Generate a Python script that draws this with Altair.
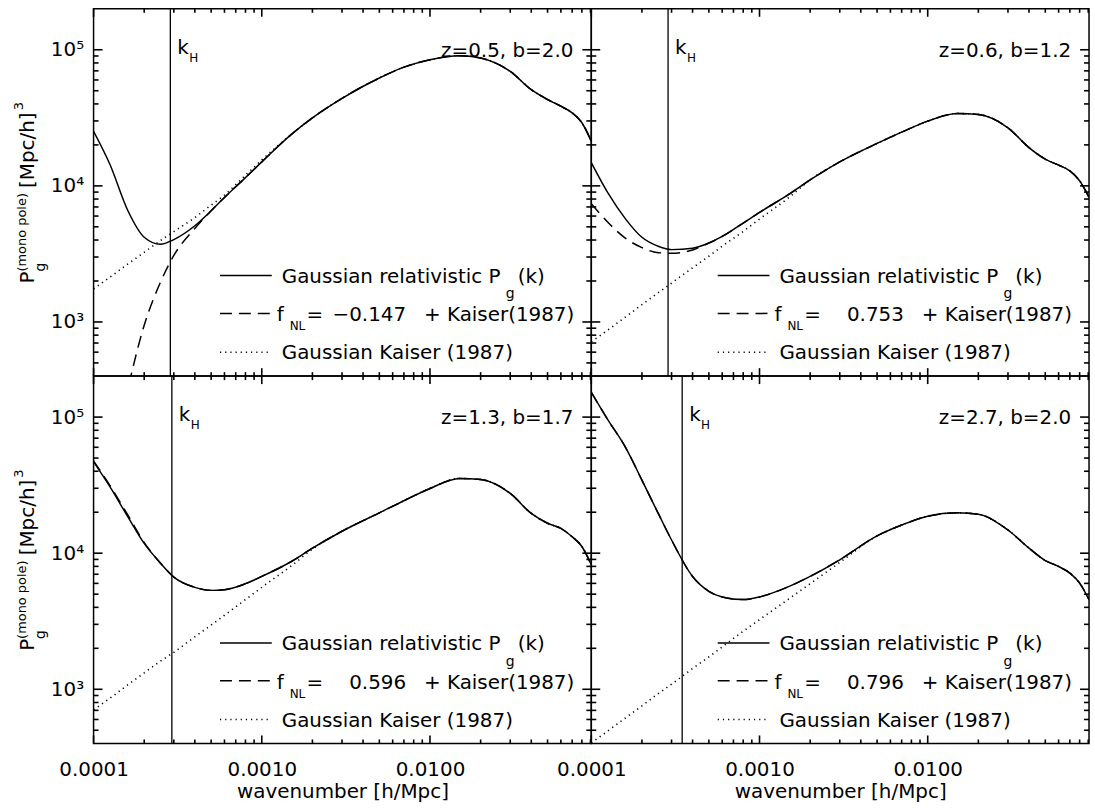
import altair as alt
import pandas as pd

FONT = "DejaVu Sans"
W, H = 500, 369
X_DOMAIN = [1.0e-4, 0.091]
Y_DOMAIN = [400, 2.0e5]

# wavenumber grid k [h/Mpc] shared by every curve
K = [1.0e-4, 1.25e-4, 1.6e-4, 2.0e-4, 2.5e-4, 3.0e-4, 4.0e-4, 5.0e-4, 6.0e-4,
     8.0e-4, 1.0e-3, 1.5e-3, 2.0e-3, 3.0e-3, 5.0e-3, 7.0e-3, 1.0e-2, 1.5e-2,
     2.0e-2, 3.0e-2, 4.0e-2, 5.0e-2, 6.0e-2, 7.0e-2, 8.0e-2, 9.1e-2]

# z=0.5, b=2.0
REL_Z05 = [25200, 14400, 6560, 4190, 3720, 4030, 5090, 6560, 8220, 11500, 15000,
           23900, 31600, 44000, 62000, 74500, 84500, 90400, 86900, 69300, 50900,
           43100, 38500, 34400, 29100, 21300]
FNL_Z05_LOWK = [15, 80, 325, 946, 1960, 3080, 4870, 6560]
KAI_Z05_LOWK = [1750, 2130, 2670, 3250, 3960, 4610, 5860, 7220, 8550, 11970, 15500]

# z=0.6, b=1.2
REL_Z06 = [14800, 8940, 5700, 4190, 3600, 3400, 3480, 3800, 4250, 5330, 6380,
           8690, 11060, 15000, 20500, 24800, 29900, 34000, 33500, 26700, 19100,
           15700, 14200, 12900, 10900, 8230]
FNL_Z06_LOWK = [7380, 5420, 4110, 3520, 3230, 3200, 3380]
KAI_Z06_LOWK = [714, 869, 1090, 1340, 1640, 1930, 2500, 3040, 3600, 4630, 5700, 8230]

# z=1.3, b=1.7
REL_Z13 = [46900, 30800, 18500, 11800, 8450, 6670, 5610, 5330, 5390, 5970, 6750,
           8690, 10880, 14500, 19800, 24300, 29900, 35400, 34800, 27500, 19600,
           16600, 15200, 13200, 11200, 8230]
FNL_Z13_LOWK = [47700, 31500, 19000, 11970]
KAI_Z13_LOWK = [706, 859, 1080, 1320, 1610, 1870, 2430, 2960, 3500, 4560, 5610,
                8080, 10700]

# z=2.7, b=2.0
REL_Z27 = [152000, 96200, 59700, 34400, 19600, 12500, 6750, 5250, 4770, 4560, 4770,
           5700, 6750, 8940, 13400, 16100, 18700, 19800, 19300, 14800, 10900,
           8830, 7980, 7140, 6030, 4560]
FNL_Z27_LOWK = []
KAI_Z27_LOWK = [403, 493, 617, 755, 929, 1090, 1420, 1730, 2050, 2670, 3250, 4630,
                5970, 8550]

PANELS = [
    dict(label="z=0.5, b=2.0", fnl="\u22120.147", kh=2.86e-4,
         rel=REL_Z05, fnl_lowk=FNL_Z05_LOWK, kai_lowk=KAI_Z05_LOWK),
    dict(label="z=0.6, b=1.2", fnl="0.753", kh=2.86e-4,
         rel=REL_Z06, fnl_lowk=FNL_Z06_LOWK, kai_lowk=KAI_Z06_LOWK),
    dict(label="z=1.3, b=1.7", fnl="0.596", kh=2.92e-4,
         rel=REL_Z13, fnl_lowk=FNL_Z13_LOWK, kai_lowk=KAI_Z13_LOWK),
    dict(label="z=2.7, b=2.0", fnl="0.796", kh=3.47e-4,
         rel=REL_Z27, fnl_lowk=FNL_Z27_LOWK, kai_lowk=KAI_Z27_LOWK),
]

X_MAJOR = [1.0e-4, 1.0e-3, 1.0e-2]
X_MINOR = [m * d for d in (1.0e-4, 1.0e-3, 1.0e-2) for m in range(2, 10)]
Y_MAJOR = [1.0e3, 1.0e4, 1.0e5]
Y_MINOR = [m * d for d in (1.0e2, 1.0e3, 1.0e4) for m in range(2, 10) if m * d >= 500]

X_AXIS = alt.Axis(values=X_MAJOR, format=".4f", ticks=False, domain=False, grid=False,
                  labelFont=FONT, labelFontSize=20, labelColor="black", labelPadding=16,
                  labelFlush=False, labelOverlap=False,
                  title="wavenumber [h/Mpc]", titleFont=FONT, titleFontSize=20,
                  titleFontWeight="normal", titleColor="black", titlePadding=2)
Y_AXIS = alt.Axis(values=Y_MAJOR, ticks=False, domain=False, grid=False,
                  labelExpr="datum.value < 5000 ? '10\u00b3' : datum.value < 50000 ? '10\u2074' : '10\u2075'",
                  labelFont=FONT, labelFontSize=20, labelColor="black", labelPadding=10,
                  title=None)


def one_row(**cols):
    return pd.DataFrame({k: [v] for k, v in cols.items()})


def txt(s, x, y, size=20, align="left", angle=0):
    return alt.Chart(one_row(t=s)).mark_text(
        font=FONT, fontSize=size, align=align, baseline="alphabetic",
        angle=angle, color="black"
    ).encode(x=alt.value(x), y=alt.value(y), text="t:N")


def legend_line(y, dash):
    mark = dict(color="black", strokeWidth=1.5)
    if dash:
        mark["strokeDash"] = dash
    return alt.Chart(one_row(a=0)).mark_rule(**mark).encode(
        x=alt.value(127), x2=alt.value(179), y=alt.value(y))


def log_step(lo, hi, frac):
    """Value that sits `frac` of the way from lo to hi on a log axis."""
    return lo * (hi / lo) ** frac


def tick_segments():
    """Short inward tick segments on all four frame edges, two rows per tick."""
    xlo, xhi = X_DOMAIN
    ylo, yhi = Y_DOMAIN
    rows = []
    n = 0
    for vals, ln in ((X_MAJOR, 8), (X_MINOR, 4)):
        f = ln / H
        for a, b in ((ylo, log_step(ylo, yhi, f)), (yhi, log_step(ylo, yhi, 1 - f))):
            for v in vals:
                rows += [dict(k=v, P=a, id=n), dict(k=v, P=b, id=n)]
                n += 1
    for vals, ln in ((Y_MAJOR, 9), (Y_MINOR, 5)):
        f = ln / W
        for a, b in ((xlo, log_step(xlo, xhi, f)), (xhi, log_step(xlo, xhi, 1 - f))):
            for v in vals:
                rows += [dict(k=a, P=v, id=n), dict(k=b, P=v, id=n)]
                n += 1
    return pd.DataFrame(rows)


TICKS = tick_segments()


def panel(p, show_x, show_y):
    xs = alt.Scale(type="log", domain=X_DOMAIN, nice=False)
    ys = alt.Scale(type="log", domain=Y_DOMAIN, nice=False)
    xax = X_AXIS if show_x else None
    yax = Y_AXIS if show_y else None

    def X(f):
        return alt.X(f"{f}:Q", scale=xs, axis=xax)

    def Y(f):
        return alt.Y(f"{f}:Q", scale=ys, axis=yax)

    rel = p["rel"]
    fnl = p["fnl_lowk"] + rel[len(p["fnl_lowk"]):]
    kai = p["kai_lowk"] + rel[len(p["kai_lowk"]):]

    def curve(values, dash=None, width=1.5):
        mark = dict(clip=True, color="black", strokeWidth=width, interpolate="monotone")
        if dash:
            mark["strokeDash"] = dash
        return alt.Chart(pd.DataFrame({"k": K, "P": values})).mark_line(**mark).encode(
            x=X("k"), y=Y("P"))

    layers = [
        curve(kai, [1.2, 4.0], 1.6),
        curve(fnl, [12, 7]),
        curve(rel),
    ]

    # inward tick marks
    layers.append(alt.Chart(TICKS).mark_line(color="black", strokeWidth=1.6).encode(
        x=X("k"), y=Y("P"), detail="id:N"))

    # horizon scale k_H
    kh = one_row(k=p["kh"], t="k", s="H")
    layers.append(alt.Chart(kh).mark_rule(color="black", strokeWidth=1.3).encode(x=X("k")))
    layers.append(alt.Chart(kh).mark_text(font=FONT, fontSize=20, align="left",
                                          baseline="alphabetic", dx=7, color="black")
                  .encode(x=X("k"), y=alt.value(45), text="t:N"))
    layers.append(alt.Chart(kh).mark_text(font=FONT, fontSize=12, align="left",
                                          baseline="alphabetic", dx=19, color="black")
                  .encode(x=X("k"), y=alt.value(53), text="s:N"))

    # redshift / bias label
    layers.append(txt(p["label"], 482, 48, align="right"))

    # legend
    layers += [
        legend_line(268, None),
        txt("Gaussian relativistic P", 189, 275),
        txt("g", 414, 291, size=14),
        txt("(k)", 426, 275),
        legend_line(306, [12, 7]),
        txt("f", 184, 314),
        txt("NL", 197, 323, size=12),
        txt("=", 214, 314),
        txt(p["fnl"], 314, 314, align="right"),
        txt("+", 332, 314),
        txt("Kaiser(1987)", 355, 314),
        legend_line(345, [1.2, 4.0]),
        txt("Gaussian Kaiser (1987)", 189, 352),
    ]

    if show_y:
        layers += [
            txt("P", -60, 276, angle=270),
            txt("g", -49, 264, size=14, angle=270),
            txt("(mono pole)", -68, 264, size=13, angle=270),
            txt("[Mpc/h]", -60, 180, angle=270),
            txt("3", -71, 102, size=13, angle=270),
        ]

    return alt.layer(*layers).properties(width=W, height=H)


chart = alt.concat(
    panel(PANELS[0], False, True),
    panel(PANELS[1], False, False),
    panel(PANELS[2], True, True),
    panel(PANELS[3], True, False),
    columns=2, spacing=0, bounds="flush",
).properties(
    padding={"left": 12, "top": 3, "right": 2, "bottom": 0}
).configure_view(stroke="black", strokeWidth=1.5)

chart.save("out.html", embed_options={"renderer": "svg", "actions": False})
